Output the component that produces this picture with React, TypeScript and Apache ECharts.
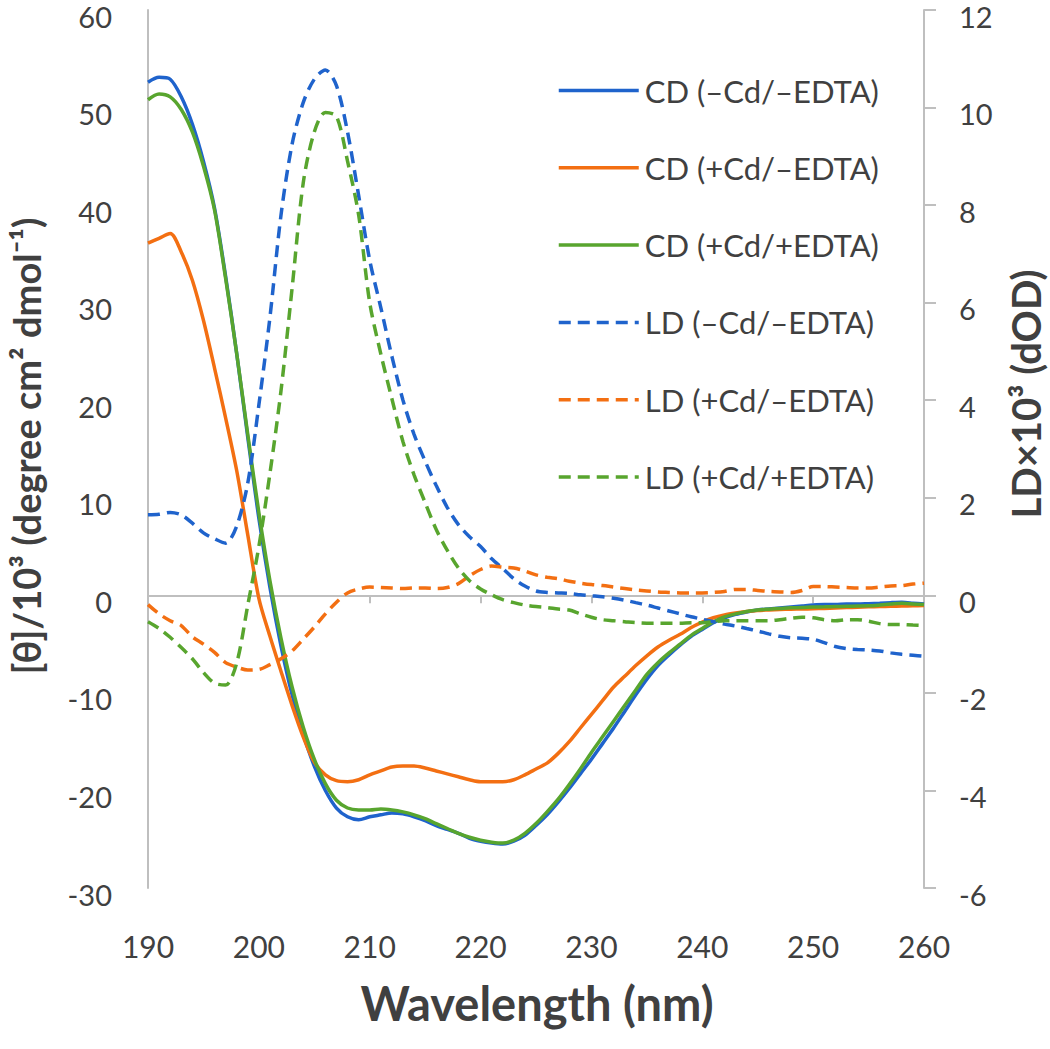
import React, { useEffect, useRef } from "react";
import * as echarts from "echarts";

const wavelengths = [
  190, 191, 192, 193, 194, 195, 196, 197, 198, 199,
  200, 201, 202, 203, 204, 205, 206, 207, 208, 209,
  210, 211, 212, 213, 214, 215, 216, 217, 218, 219,
  220, 221, 222, 223, 224, 225, 226, 227, 228, 229,
  230, 231, 232, 233, 234, 235, 236, 237, 238, 239,
  240, 241, 242, 243, 244, 245, 246, 247, 248, 249,
  250, 251, 252, 253, 254, 255, 256, 257, 258, 259, 260,
];

// CD, [θ]/10^3 (left axis)
const cdNoCdNoEdta = [
  52.6, 53.1, 52.9, 51.1, 48.3, 44.5, 39.7, 32.7, 24.8, 16.2,
  7.9, 0.8, -5.2, -10.2, -14.2, -17.5, -20.0, -21.8, -22.7, -23.0,
  -22.7, -22.5, -22.3, -22.4, -22.7, -23.1, -23.6, -24.0, -24.4, -24.9,
  -25.2, -25.4, -25.5, -25.2, -24.6, -23.6, -22.5, -21.2, -19.8, -18.3,
  -16.8, -15.2, -13.6, -11.9, -10.2, -8.6, -7.2, -6.1, -5.1, -4.2,
  -3.5, -2.8, -2.3, -1.95, -1.7, -1.5, -1.4, -1.3, -1.2, -1.1,
  -1.0, -0.95, -0.95, -0.9, -0.9, -0.85, -0.8, -0.75, -0.72, -0.8, -0.9,
];
const cdCdNoEdta = [
  36.1, 36.6, 37.1, 35.2, 32.3, 28.2, 23.3, 18.2, 12.8, 6.2,
  -0.3, -4.2, -7.8, -11.3, -14.5, -17.1, -18.4, -19.0, -19.1, -18.9,
  -18.4, -18.0, -17.6, -17.5, -17.5, -17.7, -18.0, -18.3, -18.6, -18.9,
  -19.1, -19.1, -19.1, -18.9, -18.4, -17.8, -17.2, -16.2, -15.0, -13.6,
  -12.2, -10.8, -9.4, -8.3, -7.2, -6.2, -5.3, -4.6, -4.0, -3.3,
  -2.75, -2.3, -2.0, -1.8, -1.65, -1.55, -1.5, -1.45, -1.42, -1.4,
  -1.38, -1.34, -1.3, -1.26, -1.22, -1.18, -1.15, -1.12, -1.1, -1.08, -1.05,
];
const cdCdEdta = [
  50.8, 51.4, 51.1, 49.8, 47.5, 44.0, 39.5, 32.5, 24.8, 16.5,
  8.5, 1.5, -4.4, -9.4, -13.5, -16.8, -19.3, -21.0, -21.8, -22.0,
  -22.0, -21.9, -22.0, -22.2, -22.5, -22.9, -23.4, -23.9, -24.4, -24.8,
  -25.1, -25.3, -25.4, -25.1, -24.4, -23.4, -22.2, -20.9, -19.4, -17.8,
  -16.1, -14.5, -12.9, -11.3, -9.7, -8.1, -6.9, -5.9, -5.0, -4.1,
  -3.4, -2.7, -2.2, -1.9, -1.65, -1.5, -1.42, -1.35, -1.28, -1.25,
  -1.2, -1.18, -1.15, -1.12, -1.1, -1.08, -1.0, -0.9, -0.82, -0.88, -0.95,
];

// LD x10^3 (right axis)
const ldNoCdNoEdta = [
  1.65, 1.66, 1.7, 1.65, 1.48, 1.28, 1.16, 1.07, 1.42, 2.3,
  3.9, 5.7, 7.8, 9.25, 10.1, 10.58, 10.77, 10.45, 9.5, 8.2,
  6.87, 5.9, 4.9, 4.0, 3.3, 2.75, 2.25, 1.8, 1.45, 1.2,
  1.0, 0.75, 0.55, 0.34, 0.19, 0.09, 0.06, 0.05, 0.04, 0.01,
  -0.01, -0.03, -0.06, -0.1, -0.15, -0.2, -0.26, -0.32, -0.38, -0.44,
  -0.49, -0.54, -0.59, -0.63, -0.68, -0.73, -0.79, -0.84, -0.87, -0.88,
  -0.9, -0.97, -1.05, -1.09, -1.11, -1.12, -1.14, -1.18, -1.21, -1.23, -1.25,
];
const ldCdNoEdta = [
  -0.19, -0.38, -0.52, -0.62, -0.85, -1.0, -1.17, -1.38, -1.47, -1.53,
  -1.52, -1.42, -1.3, -1.14, -0.9, -0.65, -0.38, -0.14, 0.05, 0.13,
  0.17, 0.16, 0.15, 0.14, 0.15, 0.15, 0.14, 0.16, 0.24, 0.4,
  0.53, 0.6, 0.58, 0.56, 0.5, 0.42, 0.37, 0.34, 0.29, 0.25,
  0.22, 0.2, 0.17, 0.14, 0.11, 0.09, 0.07, 0.06, 0.05, 0.05,
  0.05, 0.06, 0.08, 0.12, 0.12, 0.1, 0.08, 0.07, 0.06, 0.1,
  0.18, 0.18, 0.17, 0.16, 0.15, 0.15, 0.17, 0.19, 0.2, 0.23, 0.25,
];
const ldCdEdta = [
  -0.54, -0.68, -0.86, -1.07, -1.3, -1.58, -1.8, -1.84, -1.39, -0.2,
  1.0, 2.5, 4.2, 6.3, 8.45, 9.5, 9.9, 9.82, 8.9, 7.8,
  6.0, 4.95, 4.03, 3.15, 2.47, 1.9, 1.35, 0.92, 0.56, 0.3,
  0.13, 0.01, -0.09, -0.15, -0.2, -0.23, -0.25, -0.28, -0.3, -0.38,
  -0.45, -0.5, -0.52, -0.54, -0.56, -0.57, -0.57, -0.57, -0.57, -0.56,
  -0.56, -0.54, -0.52, -0.52, -0.52, -0.52, -0.52, -0.5, -0.47, -0.45,
  -0.46, -0.5, -0.52, -0.5, -0.5, -0.53, -0.58, -0.6, -0.6, -0.61, -0.62,
];

const seriesNames = [
  "CD (\u2013Cd/\u2013EDTA)",
  "CD (+Cd/\u2013EDTA)",
  "CD (+Cd/+EDTA)",
  "LD (\u2013Cd/\u2013EDTA)",
  "LD (+Cd/\u2013EDTA)",
  "LD (+Cd/+EDTA)",
];

const BLUE = "#1f63cc";
const ORANGE = "#f36f12";
const GREEN = "#58a52e";
const AXIS_GRAY = "#bfbfbf";
const TEXT = "#404040";
const FONT = "Lato, 'Open Sans', sans-serif";

export default function App() {
  const ref = useRef<HTMLDivElement>(null);

  useEffect(() => {
    document.body.style.margin = "0";
    if (!ref.current) return;
    const chart = echarts.init(ref.current, null, { renderer: "svg" });

    const toPairs = (vals: number[]) => wavelengths.map((w, i) => [w, vals[i]]);
    const mk = (name: string, vals: number[], color: string, dashed: boolean, yIdx: number) => ({
      name,
      type: "line",
      xAxisIndex: 0,
      yAxisIndex: yIdx,
      data: toPairs(vals),
      showSymbol: false,
      symbol: "none",
      smooth: 0.3,
      lineStyle: { color, width: 3.5, type: dashed ? [12, 7] : "solid" },
      itemStyle: { color },
    });

    const yLabel = {
      fontSize: 29,
      color: TEXT,
      fontFamily: FONT,
      verticalAlign: "top",
      lineHeight: 12,
    };

    chart.setOption({
      animation: false,
      backgroundColor: "#ffffff",
      textStyle: { fontFamily: FONT },
      grid: { left: 148, top: 10, width: 776, height: 878, containLabel: false },
      legend: {
        orient: "vertical",
        left: 557,
        top: 75,
        padding: 0,
        itemWidth: 80,
        itemHeight: 2,
        itemGap: 46.3,
        itemStyle: { opacity: 0 },
        lineStyle: { width: 3.5 },
        data: seriesNames,
        textStyle: {
          fontFamily: FONT,
          fontSize: 31,
          lineHeight: 30,
          color: TEXT,
          padding: [0, 0, 0, 1],
        },
      },
      xAxis: [
        {
          type: "value",
          min: 190,
          max: 260,
          interval: 10,
          axisLine: { show: true, onZero: true, lineStyle: { color: AXIS_GRAY, width: 2 } },
          axisTick: { show: true, length: 8, lineStyle: { color: AXIS_GRAY, width: 2 } },
          axisLabel: { show: false },
          splitLine: { show: false },
        },
        {
          type: "value",
          position: "bottom",
          min: 190,
          max: 260,
          interval: 10,
          axisLine: { show: false, onZero: false },
          axisTick: { show: false },
          axisLabel: { show: true, fontSize: 30, color: TEXT, fontFamily: FONT, margin: 43 },
          splitLine: { show: false },
        },
      ],
      yAxis: [
        {
          type: "value",
          position: "left",
          min: -30,
          max: 60,
          interval: 10,
          axisLine: { show: true, onZero: false, lineStyle: { color: AXIS_GRAY, width: 2 } },
          axisTick: { show: false },
          axisLabel: { ...yLabel, margin: 36 },
          splitLine: { show: false },
        },
        {
          type: "value",
          position: "right",
          min: -6,
          max: 12,
          interval: 2,
          axisLine: { show: true, onZero: false, lineStyle: { color: AXIS_GRAY, width: 2 } },
          axisTick: { show: true, length: 12, lineStyle: { color: AXIS_GRAY, width: 2 } },
          axisLabel: { ...yLabel, margin: 35 },
          splitLine: { show: false },
        },
      ],
      graphic: [
        {
          type: "text",
          x: 26,
          y: 446,
          rotation: Math.PI / 2,
          style: {
            text: "[\u03b8]/10\u00b3 (degree cm\u00b2 dmol\u207b\u00b9)",
            font: "bold 38px " + FONT,
            fill: TEXT,
            textAlign: "center",
            textVerticalAlign: "middle",
          },
        },
        {
          type: "text",
          x: 1026,
          y: 394,
          rotation: Math.PI / 2,
          style: {
            text: "LD\u00d710\u00b3 (dOD)",
            font: "bold 40px " + FONT,
            fill: TEXT,
            textAlign: "center",
            textVerticalAlign: "middle",
          },
        },
        {
          type: "text",
          x: 537,
          y: 1003,
          style: {
            text: "Wavelength (nm)",
            font: "bold 47px " + FONT,
            fill: TEXT,
            textAlign: "center",
            textVerticalAlign: "middle",
          },
        },
      ],
      series: [
        mk(seriesNames[0], cdNoCdNoEdta, BLUE, false, 0),
        mk(seriesNames[1], cdCdNoEdta, ORANGE, false, 0),
        mk(seriesNames[2], cdCdEdta, GREEN, false, 0),
        mk(seriesNames[3], ldNoCdNoEdta, BLUE, true, 1),
        mk(seriesNames[4], ldCdNoEdta, ORANGE, true, 1),
        mk(seriesNames[5], ldCdEdta, GREEN, true, 1),
      ],
    });

    return () => chart.dispose();
  }, []);

  return <div ref={ref} style={{ width: 1050, height: 1049 }} />;
}
